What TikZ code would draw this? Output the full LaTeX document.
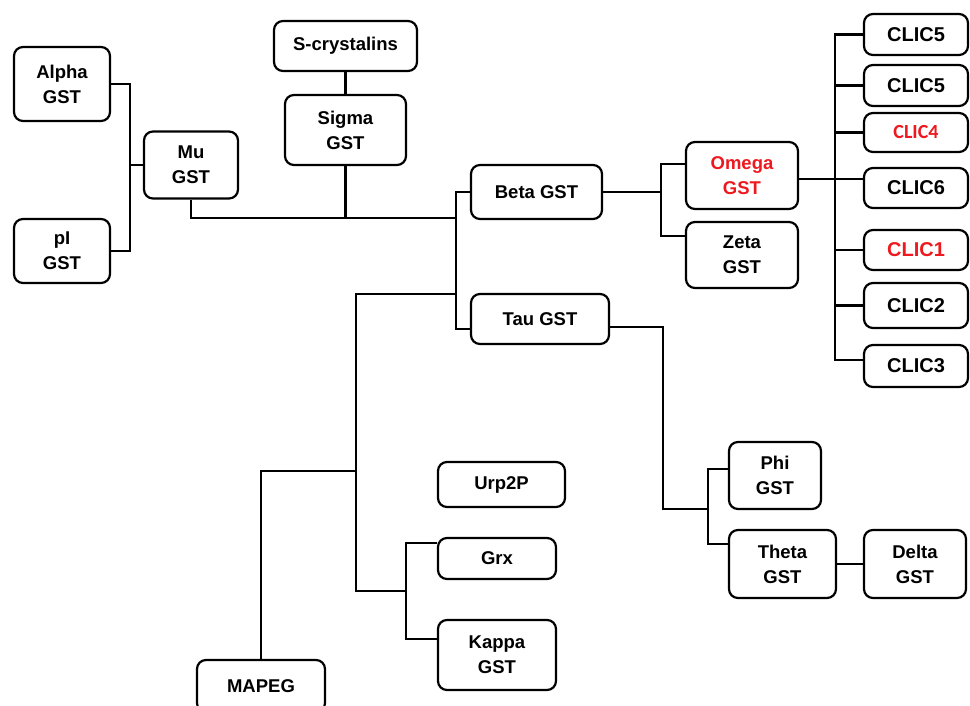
\documentclass[tikz,border=0pt]{standalone}
\usepackage{fontspec}
\setmainfont{Liberation Sans}
\newfontfamily\CalFont{Carlito}
\definecolor{CladeRed}{rgb}{0.93,0.1,0.12}

\begin{document}
\begin{tikzpicture}[x=1pt,y=-1pt,
  box/.style={draw,line width=2.2pt,rounded corners=9pt,inner sep=0pt,align=center,
    font=\fontsize{18.5}{25}\selectfont\bfseries},
  clicbox/.style={box,minimum width=104pt,font=\fontsize{20}{24}\selectfont\bfseries},
  link/.style={line width=2.6pt}]
\useasboundingbox (0,0) rectangle (970,706);

\node[box,minimum width=96pt,minimum height=74pt] (alpha) at (62,84) {Alpha\\GST};
\node[box,minimum width=96pt,minimum height=64pt] (pi) at (62,251) {pI\\GST};
\node[box,minimum width=94pt,minimum height=67pt] (mu) at (191,165) {Mu\\GST};
\node[box,minimum width=143pt,minimum height=50pt] (scry) at (345.5,46) {S-crystalins};
\node[box,minimum width=121pt,minimum height=70pt] (sigma) at (345.5,130) {Sigma\\GST};

\node[box,minimum width=131pt,minimum height=54pt] (beta) at (536.5,192) {Beta GST};
\node[box,minimum width=138pt,minimum height=50pt] (tau) at (540,319) {Tau GST};
\node[box,minimum width=112pt,minimum height=67pt,text=CladeRed] (omega) at (742,175.5) {Omega\\GST};
\node[box,minimum width=112pt,minimum height=66pt] (zeta) at (742,255) {Zeta\\GST};

\node[clicbox,minimum height=41pt] (clicA) at (916,34.5) {CLIC5};
\node[clicbox,minimum height=41pt] (clicB) at (916,85.5) {CLIC5};
\node[clicbox,minimum height=39pt,text=CladeRed] (clicC) at (916,132.5) {\CalFont CLIC4};
\node[clicbox,minimum height=40pt] (clicD) at (916,188) {CLIC6};
\node[clicbox,minimum height=40pt,text=CladeRed] (clicE) at (916,250) {CLIC1};
\node[clicbox,minimum height=45pt] (clicF) at (916,305.5) {CLIC2};
\node[clicbox,minimum height=42pt] (clicG) at (916,366) {CLIC3};

\node[box,minimum width=127pt,minimum height=45pt] (urp) at (501.5,484.5) {Urp2P};
\node[box,minimum width=118pt,minimum height=41pt] (grx) at (497,558.5) {Grx};
\node[box,minimum width=118pt,minimum height=70pt] (kappa) at (497,655) {Kappa\\GST};
\node[box,minimum width=128pt,minimum height=52pt] (mapeg) at (261,686) {MAPEG};

\node[box,minimum width=92pt,minimum height=67pt] (phi) at (775,475.5) {Phi\\GST};
\node[box,minimum width=107pt,minimum height=68pt] (theta) at (782.5,564) {Theta\\GST};
\node[box,minimum width=102pt,minimum height=68pt] (delta) at (915,564) {Delta\\GST};

\coordinate (jab) at (130,165);
\coordinate (jroot) at (456,218);
\coordinate (jout) at (456,294);
\coordinate (jm) at (356,471);
\coordinate (jgk) at (406,591);
\coordinate (jom) at (661,192);
\coordinate (jclic) at (835,179);
\coordinate (jtau) at (663,509);
\coordinate (jpt) at (708,509);

\draw[link] (alpha.east) -| (jab) -- (mu.west);
\draw[link] (pi.east) -| (jab);
\draw[link] (mu.south) |- (jroot);
\draw[link] (scry) -- (sigma);
\draw[link] (sigma.south) -- (sigma.south |- jroot);

\draw[link] (beta.west) -| (jout);
\draw[link] ([yshift=-10pt]tau.west) -| (jout);
\draw[link] (jout) -| (jm |- jgk) -- (jgk);
\draw[link] (mapeg.north) |- (jm);
\draw[link] ([yshift=-6pt]grx.north west) -| (jgk) |- ([yshift=-20pt]kappa.north west);

\draw[link] (beta.east) -- (jom);
\draw[link] ([yshift=-23pt]omega.north west) -| (jom) |- ([yshift=-15pt]zeta.north west);
\draw[link] ([yshift=-3.5pt]omega.east) -- (jclic) -- (jclic -| clicD.west);
\draw[link] (clicA.west) -| (jclic) |- ([yshift=6pt]clicG.west);
\foreach \c in {clicB,clicC,clicE,clicF}
  \draw[link] (\c.west) -- (\c.west -| jclic);

\draw[link] ([yshift=-8pt]tau.east) -| (jtau) -- (jpt);
\draw[link] ([yshift=-28pt]phi.north west) -| (jpt) |- ([yshift=-15pt]theta.north west);
\draw[link] (theta) -- (delta);

\end{tikzpicture}
\end{document}
